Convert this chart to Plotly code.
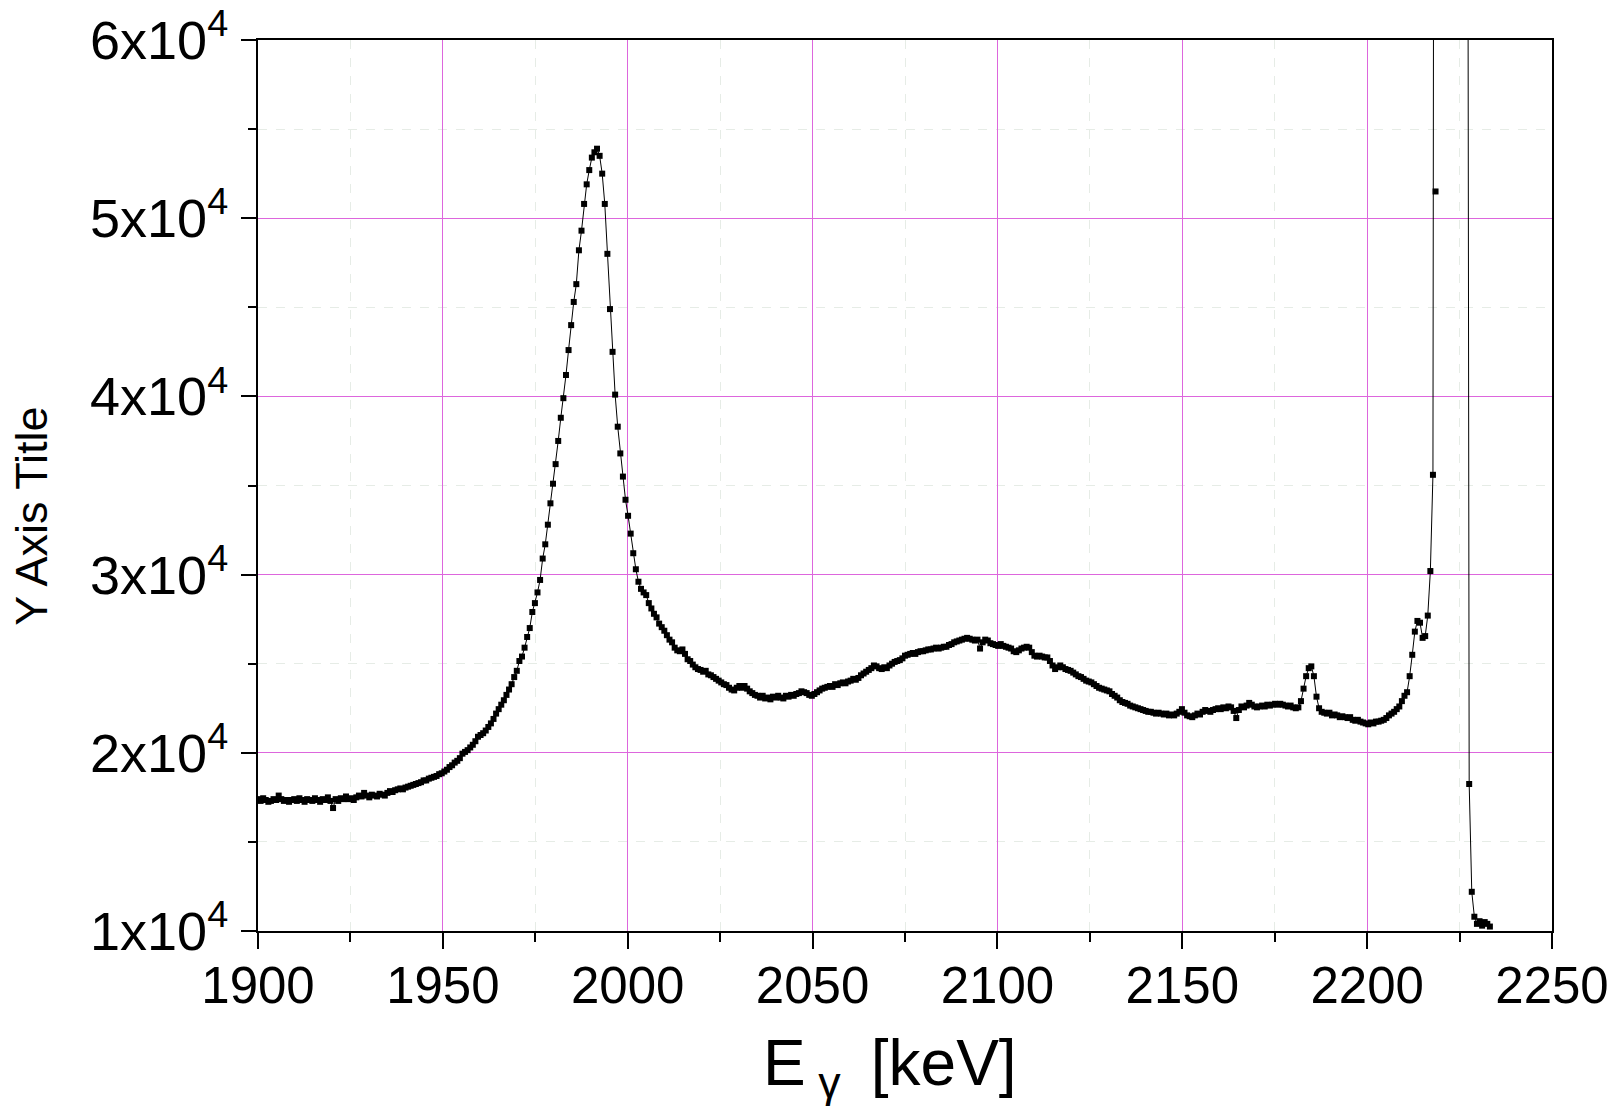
import plotly.graph_objects as go

# Spectrum: channel grid (energy calibration) and counts
E_START_KEV = 1900.0
KEV_PER_CHANNEL = 0.7

counts = [
    17400, 17300, 17450, 17350, 17250, 17300, 17400, 17350, 17600, 17400,
    17300, 17350, 17250, 17350, 17400, 17300, 17450, 17350, 17250, 17400,
    17350, 17300, 17450, 17350, 17250, 17400, 17350, 17500, 17300, 16900,
    17400, 17300, 17450, 17400, 17550, 17400, 17450, 17350, 17500, 17600,
    17550, 17750, 17600, 17500, 17650, 17600, 17550, 17700, 17650, 17600,
    17750, 17850, 17800, 17900, 17950, 18000, 17950, 18050, 18100, 18150,
    18200, 18250, 18300, 18350, 18450, 18450, 18550, 18600, 18650, 18700,
    18800, 18850, 18950, 19050, 19200, 19300, 19450, 19550, 19700, 19950,
    20050, 20150, 20300, 20450, 20650, 20900, 21000, 21100, 21250, 21450,
    21650, 21900, 22200, 22450, 22700, 22950, 23250, 23550, 23850, 24250,
    24600, 25150, 25400, 25900, 26500, 27000, 27900, 28400, 29000, 29700,
    30900, 31700, 32800, 34000, 35100, 36200, 37500, 38800, 39900, 41200,
    42600, 44000, 45300, 46300, 48200, 49300, 50800, 51900, 52700, 53400,
    53700, 53900, 53500, 52500, 50800, 48000, 44900, 42500, 40100, 38300,
    36800, 35500, 34200, 33300, 32300, 31200, 30300, 29600, 29200, 29000,
    28850, 28400, 28100, 27800, 27600, 27250, 27050, 26850, 26600, 26350,
    26200, 25900, 25750, 25700, 25800, 25550, 25250, 25150, 24950, 24800,
    24700, 24650, 24550, 24600, 24400, 24350, 24250, 24150, 24050, 23950,
    23850, 23800, 23650, 23550, 23500, 23650, 23750, 23650, 23750, 23600,
    23450, 23350, 23250, 23200, 23100, 23200, 23050, 23100, 23000, 23150,
    23100, 23200, 23100, 23050, 23200, 23150, 23250, 23200, 23300, 23350,
    23450, 23400, 23350, 23250, 23200, 23300, 23400, 23500, 23600, 23650,
    23700, 23750, 23700, 23850, 23800, 23900, 23950, 23900, 24000, 24050,
    24150, 24100, 24200, 24350, 24450, 24550, 24650, 24750, 24900, 24850,
    24750, 24700, 24800, 24750, 24900, 25000, 25100, 25150, 25200, 25300,
    25450, 25500, 25550, 25600, 25550, 25650, 25700, 25700, 25750, 25800,
    25800, 25850, 25900, 25850, 25900, 25950, 25950, 26050, 26100, 26200,
    26250, 26300, 26350, 26400, 26450, 26400, 26350, 26300, 26350, 25850,
    26200, 26350, 26300, 26150, 26100, 26050, 26000, 26100, 26000, 25950,
    25900, 25850, 25700, 25650, 25750, 25850, 25900, 25950, 25900, 25650,
    25450, 25400, 25450, 25400, 25350, 25350, 25150, 24900, 24700, 24800,
    24900, 24800, 24700, 24650, 24600, 24500, 24400, 24300, 24250, 24150,
    24050, 24000, 23950, 23850, 23750, 23650, 23600, 23550, 23500, 23450,
    23300, 23200, 23100, 22950, 22850, 22800, 22750, 22650, 22600, 22550,
    22500, 22450, 22400, 22350, 22300, 22300, 22250, 22200, 22250, 22200,
    22150, 22200, 22100, 22150, 22100, 22200, 22300, 22450, 22250, 22100,
    22050, 22000, 22100, 22200, 22150, 22300, 22400, 22350, 22300, 22400,
    22450, 22500, 22450, 22550, 22500, 22600, 22550, 22350, 21950, 22400,
    22600, 22550, 22650, 22800, 22700, 22600, 22550, 22600, 22650, 22600,
    22700, 22650, 22700, 22750, 22700, 22750, 22700, 22650, 22600, 22650,
    22550, 22500, 22550, 22900, 23600, 24300, 24750, 24850, 24300, 23150,
    22500, 22300, 22250, 22200, 22250, 22100, 22150, 22100, 22000, 22050,
    22000, 21950, 22000, 21850, 21800, 21850, 21750, 21700, 21650, 21600,
    21700, 21650, 21750, 21750, 21800, 21850, 21950, 22100, 22200, 22300,
    22450, 22600, 22900, 23200, 23400, 24300, 25500, 26800, 27400, 27300,
    26450, 26550, 27700, 30200, 35600, 51500, 150000, 300000, 500000, 700000,
    850000, 900000, 850000, 650000, 450000, 300000, 200000, 120000, 18250, 12200,
    10800, 10400, 10550, 10300, 10500, 10400, 10250,
]

energy = [E_START_KEV + KEV_PER_CHANNEL * i for i in range(len(counts))]

x_range = [1900, 2250]
y_range = [10000, 60000]
y_tick_values = [10000, 20000, 30000, 40000, 50000, 60000]
y_tick_labels = ["1x10<sup>4</sup>", "2x10<sup>4</sup>", "3x10<sup>4</sup>",
                 "4x10<sup>4</sup>", "5x10<sup>4</sup>", "6x10<sup>4</sup>"]
x_title = "E<sub>&nbsp;γ&nbsp;</sub> [keV]"
y_title = "Y Axis Title"

FONT = "Liberation Sans, Arial, sans-serif"
MAJOR_GRID = "#dd66dd"
MINOR_GRID = "#e6ece6"

fig = go.Figure(
    go.Scatter(
        x=energy, y=counts, mode="lines+markers",
        line=dict(color="black", width=1),
        marker=dict(symbol="square", size=6, color="black"),
        showlegend=False,
    )
)

fig.update_layout(
    width=1623, height=1106,
    margin=dict(l=258, r=71, t=40, b=175, autoexpand=False),
    paper_bgcolor="white", plot_bgcolor="white",
    font=dict(family=FONT, color="black"),
)

fig.update_xaxes(
    range=x_range, tickmode="linear", tick0=1900, dtick=50,
    automargin=False,
    showline=True, linecolor="black", linewidth=2, mirror=True,
    ticks="outside", ticklen=16, tickwidth=2, tickcolor="black",
    tickfont=dict(size=51, family=FONT), ticklabelstandoff=-7,
    showgrid=True, gridcolor=MAJOR_GRID, gridwidth=1,
    zeroline=False,
    minor=dict(dtick=25, tick0=1900, ticks="outside", ticklen=9, tickwidth=2,
               tickcolor="black", showgrid=True, gridcolor=MINOR_GRID,
               griddash="dash", gridwidth=1),
)

fig.update_yaxes(
    range=y_range, tickmode="array", tickvals=y_tick_values, ticktext=y_tick_labels,
    automargin=False,
    showline=True, linecolor="black", linewidth=2, mirror=True,
    ticks="outside", ticklen=15, tickwidth=2, tickcolor="black",
    tickfont=dict(size=54, family=FONT), ticklabelstandoff=2,
    showgrid=True, gridcolor=MAJOR_GRID, gridwidth=1,
    zeroline=False,
    minor=dict(tickmode="linear", tick0=5000, dtick=5000, ticks="outside", ticklen=8,
               tickwidth=2, tickcolor="black", showgrid=True,
               gridcolor=MINOR_GRID, griddash="dash", gridwidth=1),
)

fig.add_annotation(
    text=x_title, xref="paper", yref="paper", x=0.4884, y=-0.1055,
    xanchor="center", yanchor="top", showarrow=False,
    font=dict(size=64, family=FONT, color="black"),
)

fig.add_annotation(
    text=y_title, xref="paper", yref="paper", x=-0.1747, y=0.466,
    xanchor="center", yanchor="middle", textangle=-90, showarrow=False,
    font=dict(size=45, family=FONT, color="black"),
)

fig.write_html("out.html", config={"displayModeBar": False},
               post_script="document.body.style.margin='0';")
